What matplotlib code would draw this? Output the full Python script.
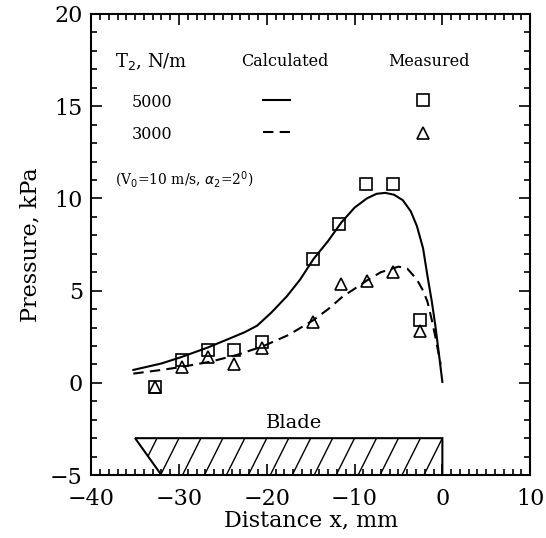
import numpy as np
import matplotlib
matplotlib.use("Agg")
import matplotlib.pyplot as plt
from matplotlib.patches import Polygon
from matplotlib.lines import Line2D
from matplotlib.ticker import MultipleLocator

plt.rcParams['font.family'] = ['DejaVu Serif']

# measured points
x_5000 = [-32.7, -29.6, -26.7, -23.7, -20.6, -14.7, -11.8, -8.7, -5.6, -2.6]
p_5000 = [-0.2, 1.26, 1.8, 1.8, 2.2, 6.7, 8.6, 10.8, 10.8, 3.4]
x_3000 = [-32.7, -29.6, -26.7, -23.7, -20.6, -14.7, -11.6, -8.6, -5.6, -2.6]
p_3000 = [-0.2, 0.87, 1.4, 1.0, 1.9, 3.3, 5.35, 5.5, 6.0, 2.8]

# calculated curves
xc_5000 = [-35.2, -32, -29.9, -26.8, -24, -22.5, -21.1, -19.5, -17.7, -16.2, -14.7, -13,
           -11.5, -10, -8.6, -7.5, -6.5, -5.5, -4.5, -3.6, -2.9, -2.2, -1.7, -1.2,
           -0.8, -0.4, 0]
pc_5000 = [0.7, 1.05, 1.37, 1.9, 2.45, 2.75, 3.1, 3.8, 4.7, 5.6, 6.7, 7.7,
           8.7, 9.5, 10.0, 10.25, 10.3, 10.2, 9.9, 9.3, 8.5, 7.3, 5.8, 4.4,
           3.1, 1.6, 0.05]
xc_3000 = [-35.2, -32, -29.6, -26.4, -23.5, -20.5, -17.5, -14.7, -13, -11.3, -10, -8.6,
           -7, -5, -4, -2.9, -2.2, -1.7, -1.2, -0.8, -0.4, -0.2]
pc_3000 = [0.5, 0.7, 0.87, 1.15, 1.5, 1.97, 2.6, 3.4, 4.0, 4.7, 5.1, 5.55,
           6.0, 6.3, 6.2, 5.6, 5.0, 4.4, 3.4, 2.5, 1.5, 1.0]

# blade outline
blade_x = [-35, 0, 0, -32]
blade_y = [-3.0, -3.0, -5, -5]

fig = plt.figure(figsize=(5.46, 5.38), dpi=100)
ax = fig.add_axes([0.167, 0.117, 0.804, 0.857])

dash = (0, (5, 3))
ax.plot(xc_5000, pc_5000, color='black', lw=1.5)
ax.plot(xc_3000, pc_3000, color='black', lw=1.5, linestyle=dash)
ax.plot(x_5000, p_5000, 's', ms=8, mfc='none', mec='black', mew=1.2)
ax.plot(x_3000, p_3000, '^', ms=8, mfc='none', mec='black', mew=1.2)

blade = Polygon(list(zip(blade_x, blade_y)), closed=True, fill=False,
                edgecolor='black', lw=1.5)
ax.add_patch(blade)
# steep hatch lines clipped to the blade
for top in np.arange(0, -40, -2.5):
    ln, = ax.plot([top, top - 2.1], [-3.0, -5], color='black', lw=1.0)
    ln.set_clip_path(blade)
ax.text(-16.9, -2.2, 'Blade', ha='center', va='center', fontsize=14)

ax.set_xlim(-40, 10)
ax.set_ylim(-5, 20)
ax.xaxis.set_major_locator(MultipleLocator(10))
ax.xaxis.set_minor_locator(MultipleLocator(1))
ax.yaxis.set_major_locator(MultipleLocator(5))
ax.yaxis.set_minor_locator(MultipleLocator(1))
ax.tick_params(which='both', direction='in', top=True, right=True, width=1.2)
ax.tick_params(which='major', length=8, labelsize=16)
ax.tick_params(axis='x', which='major', pad=9)
ax.tick_params(axis='y', which='major', pad=6)
ax.tick_params(which='minor', length=4)
for s in ax.spines.values():
    s.set_linewidth(1.5)
ax.set_xlabel('Distance x, mm', fontsize=16, labelpad=0)
ax.set_ylabel('Pressure, kPa', fontsize=16, labelpad=6)

# legend table
tr = ax.transAxes
ax.text(0.055, 0.896, r'T$_2$, N/m', transform=tr, fontsize=13, va='center')
ax.text(0.44, 0.896, 'Calculated', transform=tr, fontsize=11.5, va='center', ha='center')
ax.text(0.77, 0.896, 'Measured', transform=tr, fontsize=11.5, va='center', ha='center')
ax.text(0.093, 0.807, '5000', transform=tr, fontsize=11.5, va='center')
ax.text(0.093, 0.738, '3000', transform=tr, fontsize=11.5, va='center')
ax.add_line(Line2D([0.392, 0.453], [0.813, 0.813], transform=tr, color='black', lw=1.5))
ax.add_line(Line2D([0.392, 0.453], [0.744, 0.744], transform=tr, color='black', lw=1.5,
                   linestyle=dash))
ax.add_line(Line2D([0.756], [0.813], transform=tr, marker='s', ms=8, mfc='none',
                   mec='black', mew=1.2))
ax.add_line(Line2D([0.756], [0.742], transform=tr, marker='^', ms=8, mfc='none',
                   mec='black', mew=1.2))
ax.text(0.055, 0.64, r'(V$_0$=10 m/s, $\alpha_2$=2$^0$)', transform=tr, fontsize=10,
        va='center')

fig.savefig('out.png', dpi=100)
